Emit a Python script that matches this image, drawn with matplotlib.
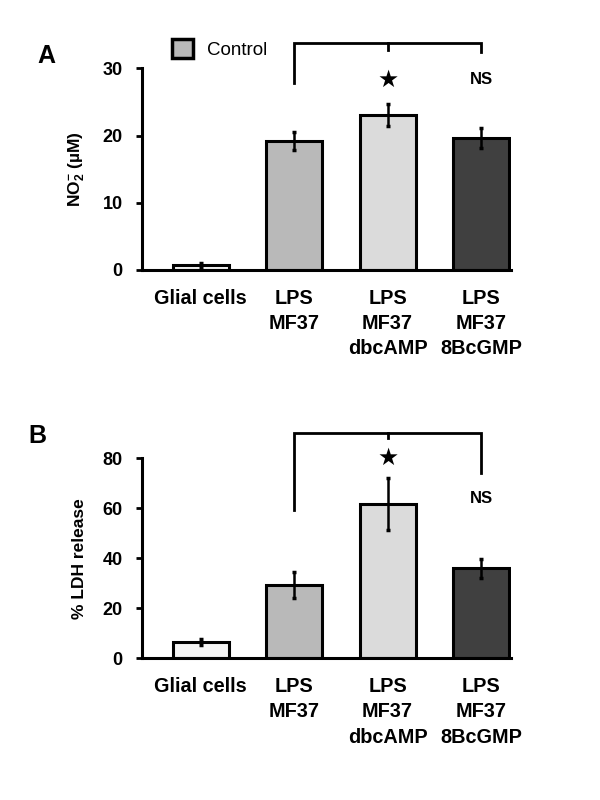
import matplotlib
matplotlib.use("Agg")
import matplotlib.pyplot as plt
from matplotlib.patches import Patch

plt.rcParams['font.family'] = ['Liberation Sans', 'DejaVu Sans']
plt.rcParams['font.weight'] = 'bold'
plt.rcParams['mathtext.fontset'] = 'custom'
plt.rcParams['mathtext.rm'] = 'Liberation Sans:bold'
plt.rcParams['mathtext.it'] = 'Liberation Sans:bold'
plt.rcParams['mathtext.bf'] = 'Liberation Sans:bold'

categories = ["Glial cells", "LPS\nMF37", "LPS\nMF37\ndbcAMP", "LPS\nMF37\n8BcGMP"]
colors = ["#f4f4f4", "#b9b9b9", "#dbdbdb", "#404040"]

no2_values = [0.7, 19.2, 23.1, 19.7]
no2_errors = [0.3, 1.4, 1.6, 1.5]
ldh_values = [6.7, 29.2, 61.9, 36.0]
ldh_errors = [1.2, 5.2, 10.4, 3.7]

panels = [
    dict(letter="A", values=no2_values, errors=no2_errors, ylim=30, yticks=[0, 10, 20, 30],
         ylabel=r"NO$^{-}_{2}$ (µM)",
         bracket=dict(top=33.8, left=27.9, mid=32.8, right=32.4, star=28.3, ns=28.3)),
    dict(letter="B", values=ldh_values, errors=ldh_errors, ylim=80, yticks=[0, 20, 40, 60, 80],
         ylabel="% LDH release",
         bracket=dict(top=90.2, left=59.3, mid=88.0, right=74.0, star=80.0, ns=64.0)),
]

fig = plt.figure(figsize=(6, 8), dpi=100)
rects = [[0.2367, 0.6625, 0.615, 0.2519], [0.2367, 0.1771, 0.615, 0.25]]
letter_pos = [(46 / 600, 1 - 56 / 800), (37 / 600, 1 - 436 / 800)]

for p, rect, lp in zip(panels, rects, letter_pos):
    ax = fig.add_axes(rect)
    x = list(range(len(categories)))
    ax.bar(x, p["values"], width=0.6, color=colors, edgecolor="black", linewidth=2.2, zorder=2)
    ax.errorbar(x, p["values"], yerr=p["errors"], fmt="none", ecolor="black",
                elinewidth=1.8, capsize=1.5, capthick=2.5, zorder=3)
    ax.set_xlim(-0.626, 3.32)
    ax.set_ylim(0, p["ylim"])
    ax.set_yticks(p["yticks"])
    ax.set_xticks(x)
    ax.set_xticklabels(categories, fontsize=14.3, fontweight="bold", linespacing=1.42)
    ax.tick_params(axis="x", length=0, pad=13.5)
    ax.tick_params(axis="y", length=4, width=2, pad=10, labelsize=13)
    for s in ["top", "right"]:
        ax.spines[s].set_visible(False)
    ax.spines["left"].set_linewidth(2.2)
    ax.spines["bottom"].set_linewidth(2.2)
    ax.set_ylabel(p["ylabel"], fontsize=12.5, fontweight="bold")
    ax.yaxis.set_label_coords(-0.148, 0.5)

    b = p["bracket"]
    ax.plot([1, 1, 3, 3], [b["left"], b["top"], b["top"], b["right"]], color="black",
            lw=2.0, clip_on=False, solid_joinstyle="miter")
    ax.plot([2, 2], [b["top"], b["mid"]], color="black", lw=2.0, clip_on=False)
    ax.text(2, b["star"], "★", family="DejaVu Sans", fontsize=17, ha="center", va="center")
    ax.text(3, b["ns"], "NS", fontsize=12, fontweight="bold", ha="center", va="center")

    fig.text(lp[0], lp[1], p["letter"], fontsize=18, fontweight="bold", ha="center", va="center")

    if p["letter"] == "A":
        leg = ax.legend(handles=[Patch(facecolor="#b9b9b9", edgecolor="black", linewidth=2.5, label="Control")],
                        loc="center left", bbox_to_anchor=(172 / 600, 1 - 49 / 800),
                        bbox_transform=fig.transFigure, frameon=False, borderpad=0, borderaxespad=0,
                        handlelength=1.1, handleheight=1.2, handletextpad=0.75,
                        prop=dict(size=13.5, weight="normal"))

fig.savefig("out.png", dpi=100)
